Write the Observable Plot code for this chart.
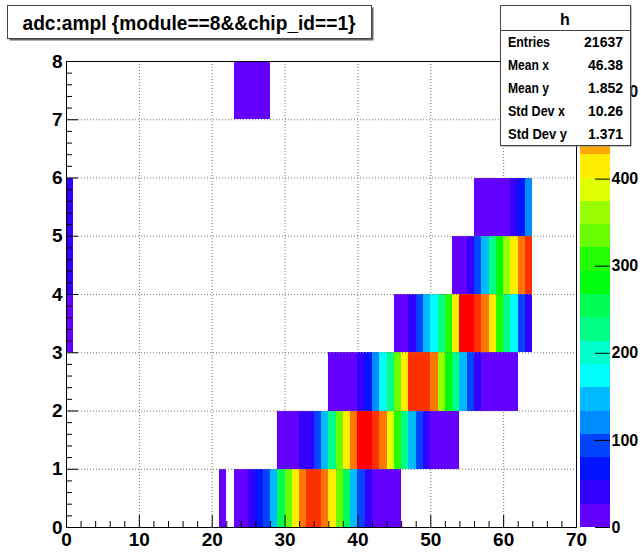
<!DOCTYPE html>
<html><head><meta charset="utf-8">
<script src="https://cdn.jsdelivr.net/npm/d3@7"></script>
<script src="https://cdn.jsdelivr.net/npm/@observablehq/plot@0.6"></script>
<style>
html,body{margin:0;padding:0;background:#fff;}
#wrap{position:relative;width:641px;height:556px;overflow:hidden;}
#wrap > svg{position:absolute;}
</style></head><body><div id="wrap"></div>
<script>
// ---- data (counts per bin) ----
const rowAdc   = [0, 1, 2, 3, 4, 5, 7];          // y bin (adc)
const rowStart = [21, 29, 36, 45, 53, 56, 23];   // first x bin (ampl) of each row
const row0 = [10, 0, 14, 16, 40, 68, 95, 150, 255, 335, 415, 470, 495, 500, 465, 412, 330, 250, 148, 92, 42, 20, 14, 10, 8];
const row1 = [12, 18, 22, 35, 48, 92, 145, 225, 335, 418, 470, 535, 530, 500, 465, 385, 300, 222, 150, 90, 45, 22, 15, 12, 8];
const row2 = [10, 14, 18, 24, 45, 70, 125, 178, 240, 335, 415, 490, 505, 495, 468, 360, 285, 230, 150, 95, 42, 24, 18, 14, 10, 6];
const row3 = [15, 25, 48, 90, 145, 180, 232, 310, 410, 525, 530, 500, 465, 420, 305, 225, 175, 95, 45];
const row4 = [15, 25, 45, 90, 145, 225, 280, 365, 420, 470, 495];
const row5 = [8, 12, 16, 20, 24, 45, 70, 125];
const row7 = [10, 12, 14, 12, 8];
const rowCounts = [row0, row1, row2, row3, row4, row5, row7];
// lone column at ampl bin 0
const col0Adc = [3, 4, 5];
const col0Counts = [14, 40, 30];

// ---- axis ticks ----
const xMajorTicks = [0, 10, 20, 30, 40, 50, 60, 70];
const yMajorTicks = [0, 1, 2, 3, 4, 5, 6, 7, 8];
const zTicks = [0, 100, 200, 300, 400, 500];
const xMinorTicks = d3.range(0, 71, 2).filter(v => v % 10 !== 0);
const yMinorTicks = d3.range(0, 41).map(i => i / 5).filter((v, i) => i % 5 !== 0);

// ---- stats box / title ----
const titleText = "adc:ampl {module==8&&chip_id==1}";
const statsName = "h";
const statsLabels = ["Entries", "Mean x", "Mean y", "Std Dev x", "Std Dev y"];
const statsValues = ["21637", "46.38", "1.852", "10.26", "1.371"];

// ---- build cells ----
const cells = [];
rowCounts.forEach((arr, i) => arr.forEach((c, j) => {
  if (c > 0) cells.push({ampl: rowStart[i] + j, adc: rowAdc[i], count: c});
}));
col0Adc.forEach((a, i) => cells.push({ampl: 0, adc: a, count: col0Counts[i]}));

// ROOT "pretty palette" (50 HLS colours violet->red), 20 contour levels
const nContours = 20;
const zmax = d3.max(cells, d => d.count);
const thresholds = d3.range(1, nContours).map(k => k * zmax / nContours);
const palette = d3.range(nContours).map(k => {
  const p = Math.floor((k + 0.99) * 50 / nContours);
  return d3.hsl(280 - (p + 1) * 5.6, 1, 0.5).formatHex();
});
const colorScale = {type: "threshold", domain: thresholds, range: palette};

const FONT = '"Liberation Sans", Arial, Helvetica, sans-serif';
const W = 641, H = 556, ML = 66, MR = 65, MT = 61, MB = 29;
const frameW = W - ML - MR, frameH = H - MT - MB;

const main = Plot.plot({
  width: W, height: H,
  marginLeft: ML, marginRight: MR, marginTop: MT, marginBottom: MB,
  x: {domain: [0, 70], label: null},
  y: {domain: [0, 8], label: null},
  color: colorScale,
  style: {fontFamily: FONT, fontWeight: "bold", fontSize: "19px", color: "#000", background: "#fff", overflow: "visible"},
  marks: [
    Plot.gridX(xMajorTicks.slice(1, -1), {stroke: "#777", strokeOpacity: 1, strokeDasharray: "1,2"}),
    Plot.rect(cells, {x1: "ampl", x2: d => d.ampl + 1, y1: "adc", y2: d => d.adc + 1, fill: "count", shapeRendering: "crispEdges"}),
    Plot.gridY(yMajorTicks.slice(1, -1), {stroke: "#777", strokeOpacity: 1, strokeDasharray: "1,2"}),
    Plot.tickX(xMinorTicks, {x: d => d, insetTop: frameH - 6, stroke: "#000"}),
    Plot.tickX(xMajorTicks, {x: d => d, insetTop: frameH - 12, stroke: "#000"}),
    Plot.tickY(yMinorTicks, {y: d => d, insetRight: frameW - 6, stroke: "#000"}),
    Plot.tickY(yMajorTicks, {y: d => d, insetRight: frameW - 12, stroke: "#000"}),
    Plot.axisX(xMajorTicks, {label: null, tickSize: 0, tickPadding: 5, fontSize: 19, fontWeight: "bold", tickFormat: d => String(d)}),
    Plot.axisY(yMajorTicks, {label: null, tickSize: 0, tickPadding: 4, fontSize: 19, fontWeight: "bold", tickFormat: d => String(d)}),
    Plot.frame({stroke: "#000", strokeWidth: 1})
  ]
});
main.style.left = "0px"; main.style.top = "0px";
document.getElementById("wrap").appendChild(main);

// colour palette bar
const levels = d3.range(nContours).map(k => ({lo: k * zmax / nContours, hi: (k + 1) * zmax / nContours}));
const pal = Plot.plot({
  width: 61, height: H,
  marginLeft: 0, marginRight: 31, marginTop: MT, marginBottom: MB,
  y: {domain: [0, zmax], label: null},
  color: colorScale,
  style: {fontFamily: FONT, fontWeight: "bold", fontSize: "16px", color: "#000", background: "transparent", overflow: "visible"},
  marks: [
    Plot.rect(levels, {y1: "lo", y2: "hi", fill: d => (d.lo + d.hi) / 2, shapeRendering: "crispEdges"}),
    Plot.tickY(zTicks, {y: d => d, insetLeft: 15, stroke: "#000"}),
    Plot.axisY(zTicks, {anchor: "right", label: null, tickSize: 0, tickPadding: 1, fontSize: 16, fontWeight: "bold", tickFormat: d => String(d)})
  ]
});
pal.style.left = "580px"; pal.style.top = "0px";
document.getElementById("wrap").appendChild(pal);

// title box and stats box
const ov = d3.select("#wrap").append("svg")
  .attr("width", W).attr("height", H)
  .style("left", "0px").style("top", "0px")
  .style("font-family", FONT).style("font-weight", "bold");

// title pave with shadow
ov.append("rect").attr("x", 9.5).attr("y", 7.5).attr("width", 364).attr("height", 33).attr("fill", "#666");
ov.append("rect").attr("x", 7.5).attr("y", 5.5).attr("width", 364).attr("height", 33).attr("fill", "#fff").attr("stroke", "#444");
ov.append("text").attr("x", 189).attr("y", 30).attr("text-anchor", "middle")
  .attr("font-size", 21).attr("textLength", 333).attr("lengthAdjust", "spacingAndGlyphs").text(titleText);

// stats pave
ov.append("rect").attr("x", 501.5).attr("y", 6.5).attr("width", 130).attr("height", 140).attr("fill", "#888");
ov.append("rect").attr("x", 500.5).attr("y", 5.5).attr("width", 130).attr("height", 140).attr("fill", "#fff").attr("stroke", "#444");
ov.append("line").attr("x1", 500.5).attr("x2", 630.5).attr("y1", 30.5).attr("y2", 30.5).attr("stroke", "#444");
ov.append("text").attr("x", 565).attr("y", 25).attr("text-anchor", "middle").attr("font-size", 16).text(statsName);
const labelLen = [42, 41, 41, 57, 59];
const baselines = [47, 70, 93, 116, 139];
statsLabels.forEach((s, i) => {
  ov.append("text").attr("x", 508).attr("y", baselines[i]).attr("font-size", 14)
    .attr("textLength", labelLen[i]).attr("lengthAdjust", "spacingAndGlyphs").text(s);
  ov.append("text").attr("x", 623).attr("y", baselines[i]).attr("font-size", 14)
    .attr("text-anchor", "end").text(statsValues[i]);
});
</script>
</body></html>
